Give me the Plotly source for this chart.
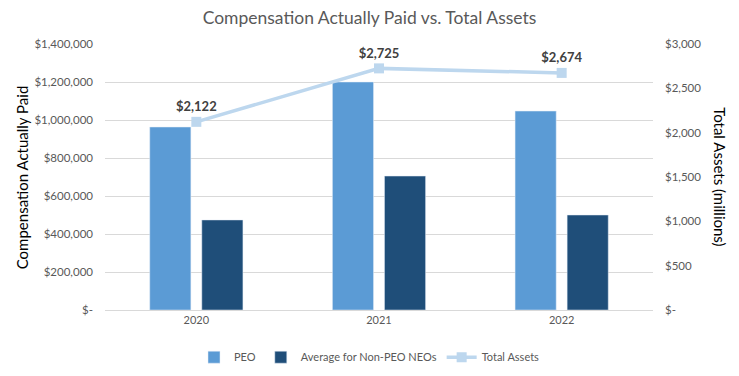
import plotly.graph_objects as go

years = ["2020", "2021", "2022"]
peo = [963000, 1200000, 1047000]
non_peo = [474000, 705000, 500000]
total_assets = [2122, 2725, 2674]
asset_labels = ["$2,122", "$2,725", "$2,674"]

left_tickvals = [0, 200000, 400000, 600000, 800000, 1000000, 1200000, 1400000]
left_ticktext = ["$-", "$200,000", "$400,000", "$600,000", "$800,000", "$1,000,000", "$1,200,000", "$1,400,000"]
right_tickvals = [0, 500, 1000, 1500, 2000, 2500, 3000]
right_ticktext = ["$-", "$500", "$1,000", "$1,500", "$2,000", "$2,500", "$3,000"]

FONT = "Lato, Calibri, Carlito, sans-serif"
GRAY = "#595959"

fig = go.Figure()
fig.add_trace(go.Bar(x=years, y=peo, name="PEO", marker_color="#5B9BD5"))
fig.add_trace(go.Bar(x=years, y=non_peo, name="Average for Non-PEO NEOs", marker_color="#1F4E79"))
fig.add_trace(go.Scatter(
    x=years, y=total_assets, name="Total Assets", yaxis="y2",
    mode="lines+markers+text", text=asset_labels, textposition="top center",
    textfont=dict(family=FONT, size=13, color="#404040", weight="bold"),
    line=dict(color="#BDD7EE", width=3.5),
    marker=dict(symbol="square", size=10, color="#BDD7EE"),
))

fig.update_layout(
    width=739, height=376,
    paper_bgcolor="white", plot_bgcolor="white",
    margin=dict(l=105, r=86, t=44, b=66),
    font=dict(family=FONT, color=GRAY, size=11),
    title=dict(text="Compensation Actually Paid vs. Total Assets", x=0.5, xanchor="center",
               y=0.952, yanchor="middle", font=dict(size=17.5, color=GRAY, family=FONT)),
    barmode="group", bargap=0.43, bargroupgap=0.21,
    xaxis=dict(showgrid=False, showline=True, linecolor="#D9D9D9", ticks="",
               tickfont=dict(size=11, color=GRAY), automargin=False),
    yaxis=dict(range=[0, 1400000], tickvals=left_tickvals, ticktext=left_ticktext,
               showgrid=True, gridcolor="#D9D9D9", zeroline=False, automargin=False,
               tickfont=dict(size=11.5, color=GRAY), ticks="", ticklabelstandoff=11),
    yaxis2=dict(range=[0, 3000], tickvals=right_tickvals, ticktext=right_ticktext,
                overlaying="y", side="right", showgrid=False, zeroline=False, automargin=False,
                tickfont=dict(size=11.5, color=GRAY), ticks="", ticklabelstandoff=11),
    legend=dict(orientation="h", x=0.5, xanchor="center", xref="container",
                y=0.05, yanchor="middle", yref="container",
                font=dict(size=11, color=GRAY), traceorder="normal"),
    showlegend=True,
    annotations=[
        dict(text="Compensation Actually Paid", xref="paper", yref="paper",
             x=-0.151, y=0.5, xanchor="center", yanchor="middle", textangle=-90,
             showarrow=False, font=dict(size=15, color="#000000", family=FONT)),
        dict(text="Total Assets (millions)", xref="paper", yref="paper",
             x=1.122, y=0.5, xanchor="center", yanchor="middle", textangle=90,
             showarrow=False, font=dict(size=15, color="#000000", family=FONT)),
    ],
)

fig.write_html("out.html", config={"displayModeBar": False},
               post_script="document.body.style.margin='0';")
